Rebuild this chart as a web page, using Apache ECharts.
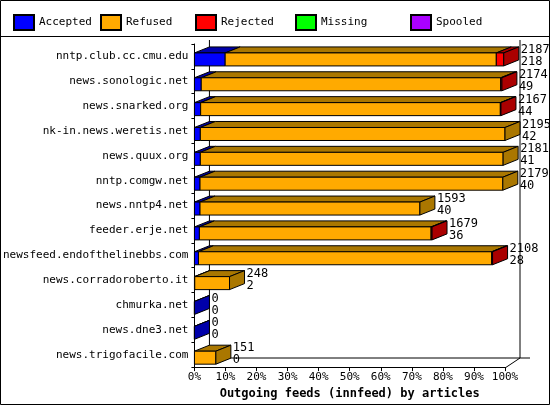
<!DOCTYPE html><html><head><meta charset="utf-8">
<script src="https://cdn.jsdelivr.net/npm/echarts@6/dist/echarts.min.js"></script>
<style>html,body{margin:0;padding:0;background:#fff}#c{width:550px;height:405px}</style></head><body><div id="c"></div>
<script>
const categories=['nntp.club.cc.cmu.edu','news.sonologic.net','news.snarked.org','nk-in.news.weretis.net','news.quux.org','nntp.comgw.net','news.nntp4.net','feeder.erje.net','newsfeed.endofthelinebbs.com','news.corradoroberto.it','chmurka.net','news.dne3.net','news.trigofacile.com'];
const totals=[2187,2174,2167,2195,2181,2179,1593,1679,2108,248,0,0,151];
const accepted=[218,49,44,42,41,40,40,36,28,2,0,0,0];
// percent of largest feed
const acceptedPct=[9.9,2.2,2.0,1.9,1.9,1.8,1.8,1.6,1.3,0.1,0,0,0];
const refusedPct=[87.3,96.4,96.5,98.1,97.5,97.5,70.8,74.6,94.4,11.2,0,0,6.9];
const rejectedPct=[2.4,0.4,0.2,0,0,0,0,0.3,0.3,0,0,0,0];
const legendNames=['Accepted','Refused','Rejected','Missing','Spooled'];
const front=['#0000ff','#ffaa00','#ff0000','#00ff00','#aa00ff'];
const dark=['#0000aa','#aa7700','#aa0000','#00aa00','#7700aa'];
const legendLeft=[8,95,190,290,405];
const DX=15,DY=6,H=13,F='DejaVu Sans Mono';

const segs=[];
categories.forEach((c,i)=>{
  const p=[acceptedPct[i],refusedPct[i],rejectedPct[i]];
  let last=0;p.forEach((v,k)=>{if(v>0)last=k;});
  let s=0;
  p.forEach((v,k)=>{ if(v>0||k===last) segs.push([s,s+v,i,k,k===last?1:0]); s+=v; });
});
function renderItem(params,api){
  const x0v=api.value(0),x1v=api.value(1),ci=api.value(2),k=api.value(3),last=api.value(4);
  const a=api.coord([x0v,ci]),b=api.coord([x1v,ci]);
  const yc=a[1]+3,yt=yc-H/2,yb=yc+H/2,x0=a[0],x1=b[0];
  const st={stroke:'#000',lineWidth:1};
  const ch=[
    {type:'polygon',shape:{points:[[x0,yt],[x1,yt],[x1+DX,yt-DY],[x0+DX,yt-DY]]},style:Object.assign({fill:dark[k]},st)},
    {type:'rect',shape:{x:x0,y:yt,width:x1-x0,height:H},style:Object.assign({fill:front[k]},st)}
  ];
  if(last){
    ch.push({type:'polygon',shape:{points:[[x1,yt],[x1+DX,yt-DY],[x1+DX,yb-DY],[x1,yb]]},style:Object.assign({fill:dark[k]},st)});
    ch.push({type:'text',x:x1+DX+2,y:yt-DY-3,style:{text:totals[ci]+'\n'+accepted[ci],font:'12px '+F,fill:'#000',lineHeight:12}});
  }
  return {type:'group',children:ch};
}
const legends=legendNames.map((n,i)=>({data:[n],left:legendLeft[i],top:9,icon:'rect',itemWidth:20,itemHeight:15,itemGap:6,
  textStyle:{fontFamily:F,fontSize:11,color:'#000'},selectedMode:false}));
const dummy=legendNames.map((n,i)=>({name:n,type:'bar',data:[],itemStyle:{color:front[i],borderColor:'#000',borderWidth:1}}));
const chart=echarts.init(document.getElementById('c'));
chart.setOption({
  animation:false,
  legend:legends,
  grid:{left:176,right:45,top:44,bottom:37},
  xAxis:{type:'value',min:0,max:100,interval:10,
    axisLabel:{formatter:'{value}%',fontFamily:F,fontSize:11,color:'#000',margin:5},
    axisLine:{show:true,lineStyle:{color:'#000'}},axisTick:{show:true,length:4,lineStyle:{color:'#000'}},splitLine:{show:false},
    name:'Outgoing feeds (innfeed) by articles',nameLocation:'middle',nameGap:18,
    nameTextStyle:{fontFamily:F,fontSize:12,fontWeight:'bold',color:'#000'}},
  yAxis:{type:'category',data:categories,inverse:true,
    axisLabel:{fontFamily:F,fontSize:11,color:'#000',margin:6,formatter:v=>v},
    axisLine:{show:true,lineStyle:{color:'#000'}},axisTick:{show:true,length:3,lineStyle:{color:'#000'}}},
  series:[...dummy,{type:'custom',renderItem,data:segs,encode:{x:[0,1],y:2},z:5}]
});
const p0=chart.convertToPixel({xAxisIndex:0},0),p1=chart.convertToPixel({xAxisIndex:0},100);
const gTop=44,gBot=405-37;
const ls={stroke:'#000',lineWidth:1};
chart.setOption({graphic:[
  {type:'rect',shape:{x:0.5,y:0.5,width:549,height:404},style:{fill:'none',stroke:'#000'},silent:true},
  {type:'line',shape:{x1:0,y1:36.5,x2:550,y2:36.5},style:ls},
  {type:'line',shape:{x1:p0+DX,y1:gTop-4,x2:p0+DX,y2:gBot-DY-4},style:ls,z:-1},
  {type:'line',shape:{x1:p1+DX,y1:gTop-4,x2:p1+DX,y2:gBot-DY-4},style:ls,z:-1},
  {type:'line',shape:{x1:p0+DX,y1:gBot-DY-4,x2:p1+DX+10,y2:gBot-DY-4},style:ls,z:-1},
  {type:'line',shape:{x1:p1,y1:gBot,x2:p1+DX,y2:gBot-DY-4},style:ls,z:-1}
]});
</script></body></html>
